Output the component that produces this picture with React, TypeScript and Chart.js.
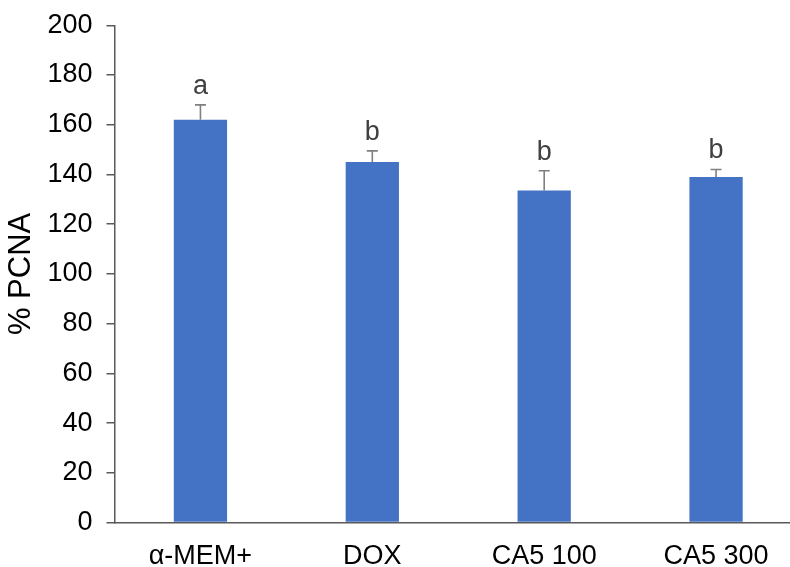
import React, { useEffect, useRef } from "react";
import { Chart, registerables } from "chart.js";

Chart.register(...registerables);

const categories = ["α-MEM+", "DOX", "CA5 100", "CA5 300"];
const means = [162, 145, 133.5, 139];
const errors = [6, 4.5, 8, 3];
const letters = ["a", "b", "b", "b"];
const yTicks = [0, 20, 40, 60, 80, 100, 120, 140, 160, 180, 200];

const FONT = "'Liberation Sans', Arial, sans-serif";

const annotPlugin = {
  id: "annot",
  afterDatasetsDraw(chart: any) {
    const ctx = chart.ctx;
    const x = chart.scales.x;
    const y = chart.scales.y;
    ctx.save();
    means.forEach((m, i) => {
      const cx = x.getPixelForValue(i);
      const yTop = y.getPixelForValue(m);
      const yErr = y.getPixelForValue(m + errors[i]);
      ctx.strokeStyle = "#7f7f7f";
      ctx.lineWidth = 1.6;
      ctx.beginPath();
      ctx.moveTo(cx, yTop);
      ctx.lineTo(cx, yErr);
      ctx.moveTo(cx - 5.5, yErr);
      ctx.lineTo(cx + 5.5, yErr);
      ctx.stroke();
      ctx.fillStyle = "#404040";
      ctx.font = `27px ${FONT}`;
      ctx.textAlign = "center";
      ctx.textBaseline = "alphabetic";
      ctx.fillText(letters[i], cx, yErr - 11);
    });
    ctx.restore();
  },
};

export default function App() {
  const ref = useRef<HTMLCanvasElement | null>(null);
  useEffect(() => {
    if (!ref.current) return;
    const chart = new Chart(ref.current, {
      type: "bar",
      data: {
        labels: categories,
        datasets: [
          {
            data: means,
            backgroundColor: "#4472C4",
            barPercentage: 0.62,
            categoryPercentage: 0.5,
          },
        ],
      },
      options: {
        animation: false,
        responsive: true,
        maintainAspectRatio: false,
        layout: { padding: { top: 25.3, left: 0, right: 0, bottom: 0 } },
        plugins: { legend: { display: false }, tooltip: { enabled: false } },
        scales: {
          x: {
            grid: {
              display: true,
              drawOnChartArea: false,
              drawTicks: false,
              color: "transparent",
            },
            border: { display: true, color: "#595959", width: 1.5 },
            ticks: {
              color: "#000",
              font: { family: FONT, size: 27 },
              padding: 18,
              maxRotation: 0,
            },
            afterFit(scale: any) {
              scale.height = 44.5;
              scale.paddingLeft = 0;
              scale.paddingRight = 0;
            },
          },
          y: {
            min: 0,
            max: 200,
            afterBuildTicks(scale: any) {
              scale.ticks = yTicks.map((v) => ({ value: v }));
            },
            grid: {
              display: true,
              drawOnChartArea: false,
              drawTicks: true,
              tickLength: 8,
              color: "#595959",
              lineWidth: 1.5,
            },
            border: { display: true, color: "#595959", width: 1.5 },
            ticks: {
              color: "#000",
              font: { family: FONT, size: 27 },
              padding: 14,
            },
            title: {
              display: true,
              text: "% PCNA",
              color: "#000",
              font: { family: FONT, size: 31 },
              padding: { top: 3, bottom: 0 },
            },
            afterFit(scale: any) {
              scale.width = 114.5;
              scale.paddingTop = 0;
              scale.paddingBottom = 0;
            },
          },
        },
      },
      plugins: [annotPlugin],
    });
    return () => chart.destroy();
  }, []);
  return (
    <div
      style={{
        position: "fixed",
        left: 0,
        top: 0,
        width: 790,
        height: 567,
        overflow: "hidden",
        background: "#fff",
      }}
    >
      <div style={{ position: "relative", width: 802, height: 567 }}>
        <canvas ref={ref} />
      </div>
    </div>
  );
}
